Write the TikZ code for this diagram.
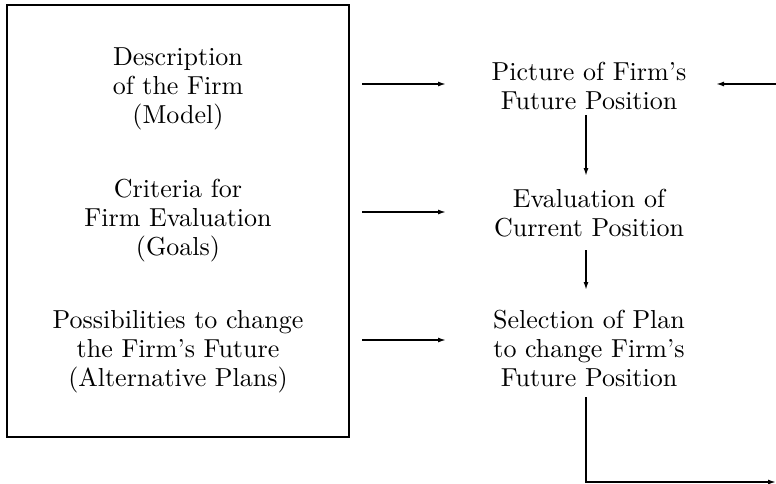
\documentclass[tikz,border=0pt]{standalone}
\usetikzlibrary{arrows.meta}
\begin{document}
\begin{tikzpicture}[x=1pt,y=-1pt,
  txt/.style={align=center,inner sep=0pt,font=\fontsize{10}{11.15}\selectfont,scale=2.6,transform shape},
  conn/.style={line width=1.5pt,-{Latex[length=8pt,width=5pt]}},
  plain/.style={line width=1.5pt}]
\useasboundingbox (0,0) rectangle (776,484);
\node[draw,line width=1.8pt,minimum width=342pt,minimum height=432pt,inner sep=0pt] (box) at (178,221) {};
\node[txt] (d1) at (178,89) {Description\\of the Firm\\(Model)};
\node[txt] (d2) at (178,221) {Criteria for\\Firm Evaluation\\(Goals)};
\node[txt] (d3) at (178,352) {Possibilities to change\\the Firm's Future\\(Alternative Plans)};
\node[txt] (r1) at (589,86) {Picture of Firm's\\Future Position};
\node[txt] (r2) at (589,213) {Evaluation of\\Current Position};
\node[txt] (r3) at (589,348) {Selection of Plan\\to change Firm's\\Future Position};
\coordinate (a1s) at (362,84); \coordinate (a1e) at (446,84);
\coordinate (a2s) at (362,212); \coordinate (a2e) at (446,212);
\coordinate (a3s) at (362,340); \coordinate (a3e) at (446,340);
\coordinate (v1s) at (586,115); \coordinate (v1e) at (586,176);
\coordinate (v2s) at (586,250); \coordinate (v2e) at (586,290);
\coordinate (v3s) at (586,397); \coordinate (v3c) at (586,482); \coordinate (v3e) at (776,482);
\coordinate (fbs) at (776,84); \coordinate (fbe) at (716,84);
\draw[conn] (a1s) -- (a1e);
\draw[conn] (a2s) -- (a2e);
\draw[conn] (a3s) -- (a3e);
\draw[conn] (v1s) -- (v1e);
\draw[conn] (v2s) -- (v2e);
\draw[conn] (v3s) -- (v3c) -- (v3e);
\draw[conn] (fbs) -- (fbe);
\end{tikzpicture}
\end{document}
